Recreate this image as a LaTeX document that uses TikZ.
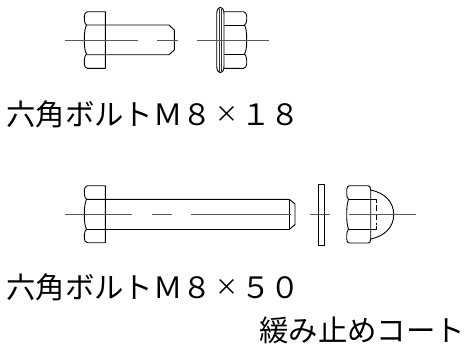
\documentclass[tikz,border=0pt]{standalone}
\usepackage{fontspec}
\newfontfamily\cjk{Noto Sans CJK JP}
\newcommand{\smalltimes}{\makebox[1em][c]{\raisebox{2.8pt}{\fontsize{23}{23}\selectfont ×}}}
\tikzset{
  part/.style={draw=black,line width=0.9pt,line join=round},
  thin part/.style={draw=black!80,line width=0.7pt},
  axis/.style={draw=black!65,line width=0.9pt},
  label/.style={font=\cjk\fontsize{29.4}{30}\selectfont,anchor=base west,inner sep=0pt,text=black}
}
\begin{document}
\begin{tikzpicture}[x=1pt,y=-1pt]
\useasboundingbox (0,0) rectangle (468,349);
% top bolt
\draw[part] (105.3,11.7) -- (87.5,11.7) .. controls (85.5,12) and (84.3,14) .. (84.3,16) -- (84.3,20) .. controls (84.3,23) and (85.5,24) .. (86.5,25) .. controls (85,28) and (84.3,32) .. (84.3,40) .. controls (84.3,48) and (85,51) .. (86.5,54) .. controls (85.5,55) and (84.3,57) .. (84.3,60) -- (84.3,64) .. controls (84.3,66) and (85.5,68) .. (87.5,68.3) -- (105.3,68.3) -- cycle;
\draw[part] (86.5,25) -- (169,25) -- (174.3,30) -- (174.3,50) -- (169,54.7) -- (86.5,54.7);
\draw[axis] (65.3,40) -- (138.3,40) (157.3,40) -- (177.7,40);
% top flange nut
\draw[part] (224,11.7) -- (243.5,11.7) .. controls (245.5,12) and (246.7,14) .. (246.7,16) -- (246.7,20) .. controls (246.7,23) and (245.5,24) .. (244.5,25) .. controls (246,28) and (246.7,32) .. (246.7,40) .. controls (246.7,48) and (246,51) .. (244.5,54) .. controls (245.5,55) and (246.7,57) .. (246.7,60) -- (246.7,64) .. controls (246.7,66) and (245.5,68) .. (243.5,68.3) -- (224,68.3);
\draw[part] (224,25) -- (244.5,25) (224,54) -- (244.5,54);
\draw[part] (216.7,14) .. controls (216.7,5) and (224,5) .. (224,14) -- (224,66) .. controls (224,75) and (216.7,75) .. (216.7,66) -- cycle;
\draw[thin part] (219.2,8.5) -- (219.2,71.5) (221.6,8.5) -- (221.6,71.5);
\draw[axis] (196.7,40) -- (269.3,40);
% long bolt
\draw[part] (105.3,185.7) -- (87.5,185.7) .. controls (85.5,186) and (84.3,188) .. (84.3,190) -- (84.3,194) .. controls (84.3,197) and (85.5,198) .. (86.5,199.3) .. controls (85,203) and (84.3,207) .. (84.3,214.3) .. controls (84.3,222) and (85,226) .. (86.5,229.3) .. controls (85.5,230.5) and (84.3,232) .. (84.3,235) -- (84.3,238.5) .. controls (84.3,240.5) and (85.5,242.4) .. (87.5,242.7) -- (105.3,242.7) -- cycle;
\draw[part] (86.5,199.3) -- (289.3,199.3) -- (295,204) -- (295,224.5) -- (289.3,229.5) -- (86.5,229.5);
\draw[part] (289.3,199.3) -- (289.3,229.5);
\draw[axis] (65.3,214.3) -- (132.3,214.3) (151.5,214.3) -- (172,214.3) (191,214.3) -- (290.7,214.3);
% washer
\draw[part] (318.3,184.3) rectangle (324.3,245);
\draw[axis] (309.7,214.3) -- (330.3,214.3);
% cap nut
\draw[part] (370.7,190) .. controls (370.7,187) and (369.5,185.7) .. (368,185.7) -- (349.5,185.7) .. controls (348,185.7) and (346.7,187) .. (346.7,190) -- (346.7,194) .. controls (346.7,197) and (347.5,198) .. (348.5,199.3) .. controls (347.3,203) and (346.7,207) .. (346.7,214.3) .. controls (346.7,222) and (347.3,226) .. (348.5,229.3) .. controls (347.5,230.5) and (346.7,232) .. (346.7,235) -- (346.7,239) .. controls (346.7,242) and (348,243) .. (349.5,243) -- (368,243) .. controls (369.5,243) and (370.7,242) .. (370.7,239) -- cycle;
\draw[part] (348.5,199.3) -- (370.7,199.3) (348.5,229.3) -- (370.7,229.3);
\draw[part] (370.7,190) .. controls (385,193) and (393.7,202) .. (393.7,214.5) .. controls (393.7,227) and (385,236) .. (370.7,239);
\draw[part] (370.7,199.3) -- (376.7,199.3) -- (376.7,203) (376.7,226) -- (376.7,229.3) -- (370.7,229.3);
\draw[part,dash pattern=on 6pt off 3pt] (376.7,205) -- (376.7,225);
\draw[axis] (349.3,214.3) -- (416,214.3);
% labels
\node[label] (t1) at (6,125) {六角ボルトＭ８\smalltimes １８};
\node[label] (t2) at (6,298) {六角ボルトＭ８\smalltimes ５０};
\node[label] (t3) at (259,341) {緩み止めコート};
\end{tikzpicture}
\end{document}
